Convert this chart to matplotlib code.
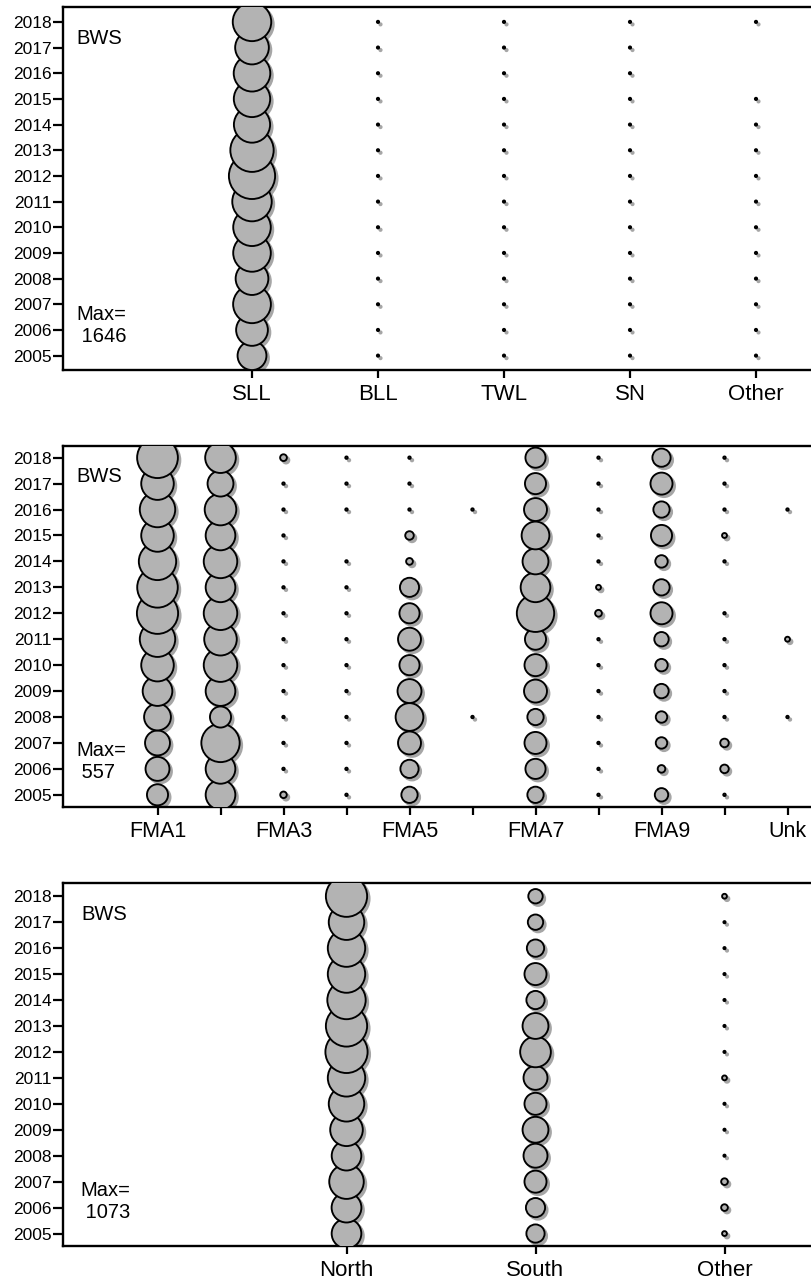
import matplotlib
matplotlib.use('Agg')
import matplotlib.pyplot as plt
import numpy as np
from matplotlib.transforms import ScaledTranslation

plt.rcParams['font.family'] = ['Liberation Sans', 'DejaVu Sans']

nan = np.nan
years = list(range(2005, 2019))

# ---------------- Panel 1: by gear (Max = 1646) ----------------
gear_cats = ['SLL', 'BLL', 'TWL', 'SN', 'Other']
gear_SLL = [643, 778, 1100, 826, 1090, 1087, 1201, 1646, 1447, 1010, 1020, 1032, 875, 1143]
gear_BLL = [4, 4, 4, 4, 4, 4, 4, 4, 4, 4, 4, 4, 4, 4]
gear_TWL = [4, 4, 4, 4, 4, 4, 4, 4, 4, 4, 4, 4, 4, 4]
gear_SN = [4, 4, 4, 4, 4, 4, 4, 4, 4, 4, 4, 4, 4, 4]
gear_Other = [4, 4, 4, 4, 4, 4, 4, 4, 4, 4, 4, nan, nan, 4]
gear_max = 1646

# ---------------- Panel 2: by FMA (Max = 557) ----------------
fma_cats = ['FMA1', 'FMA2', 'FMA3', 'FMA4', 'FMA5', 'FMA6', 'FMA7', 'FMA8', 'FMA9', 'FMA10', 'Unk']
fma_FMA1 = [146, 188, 204, 236, 289, 348, 412, 557, 540, 458, 348, 412, 348, 545]
fma_FMA2 = [289, 289, 482, 146, 289, 369, 348, 369, 289, 369, 289, 328, 220, 308]
fma_FMA3 = [14, 2, 2, 2, 2, 2, 2, 2, 2, 2, 2, 2, 2, 15]
fma_FMA4 = [2, 2, 2, 2, 2, 2, 2, 2, 2, 2, nan, 2, 2, 2]
fma_FMA5 = [87, 109, 173, 253, 188, 133, 173, 133, 120, 15, 24, 2, 2, 2]
fma_FMA6 = [nan, nan, nan, 2, nan, nan, nan, nan, nan, nan, nan, 2, nan, nan]
fma_FMA7 = [87, 133, 159, 87, 173, 159, 146, 458, 289, 220, 253, 173, 146, 133]
fma_FMA8 = [2, 2, 2, 2, 2, 2, 2, 15, 8, 2, 2, 2, 2, 2]
fma_FMA9 = [59, 19, 43, 43, 68, 51, 68, 159, 87, 51, 146, 87, 159, 109]
fma_FMA10 = [2, 24, 24, 2, 2, 2, 2, 2, nan, 2, 8, 2, 2, 2]
fma_Unk = [nan, nan, nan, 2, nan, nan, 8, nan, nan, nan, nan, 2, nan, nan]
fma_max = 557

# ---------------- Panel 3: by region (Max = 1073) ----------------
reg_cats = ['North', 'South', 'Other']
reg_North = [530, 535, 718, 528, 641, 759, 843, 1073, 1025, 887, 843, 843, 759, 1025]
reg_South = [200, 222, 293, 346, 404, 293, 346, 568, 404, 200, 293, 180, 142, 125]
reg_Other = [14, 27, 27, 3, 3, 3, 14, 3, 3, 3, 3, 3, 3, 14]
reg_max = 1073

panel_label = 'BWS'

FIG_W, FIG_H, DPI = 811, 1287, 100
fig = plt.figure(figsize=(FIG_W / DPI, FIG_H / DPI), dpi=DPI)

FILL = '#b3b3b3'
SHADOW = '#a6a6a6'
EDGE_LW = 1.35


def px(v):
    return v / FIG_W


def py(v):
    return v / FIG_H


def make_axes(top_px, bottom_px):
    left = 63
    right = 819
    return fig.add_axes([px(left), 1 - py(bottom_px), px(right - left), py(bottom_px - top_px)])


def draw_panel(ax, cats, series, vmax, dmax_px, ylim, xlabels, xfs, max_text, bws_dx=13, max_dx=13):
    xs = np.arange(len(cats))
    scale = dmax_px - 1.8
    shadow_tr = ax.transData + ScaledTranslation(2.5 / DPI, -2.5 / DPI, fig.dpi_scale_trans)
    allx, ally, alls = [], [], []
    for yi, yr in enumerate(years):
        for ci in range(len(cats)):
            v = series[ci][yi]
            if v is None or np.isnan(v):
                continue
            d_px = scale * np.sqrt(v / vmax)
            s = (d_px * 72.0 / DPI) ** 2
            allx.append(xs[ci])
            ally.append(yr)
            alls.append(s)
    ax.scatter(allx, ally, s=alls, c=SHADOW, edgecolors=SHADOW, linewidths=EDGE_LW,
               transform=shadow_tr, zorder=2)
    ax.scatter(allx, ally, s=alls, c=FILL, edgecolors='black', linewidths=EDGE_LW, zorder=3)

    ax.set_xlim(-1.5, len(cats) - 0.5)
    ax.set_ylim(*ylim)
    ax.set_yticks(years)
    ax.set_yticklabels([str(y) for y in years], fontsize=12.5)
    ax.set_xticks(xs)
    ax.set_xticklabels(xlabels, fontsize=xfs)
    ax.tick_params(axis='y', length=7.2, width=1.6, pad=0.8, direction='out')
    ax.tick_params(axis='x', length=5.5, width=1.6, pad=4.5, direction='out')
    for sp in ['left', 'bottom', 'top']:
        ax.spines[sp].set_linewidth(1.7)
    ax.spines['right'].set_visible(False)

    ax.annotate(panel_label, xy=(0, 1), xycoords='axes fraction',
                xytext=(bws_dx, -31), textcoords='offset pixels',
                ha='left', va='center', fontsize=14.5)
    ax.annotate('Max=\n ' + max_text, xy=(0, 0), xycoords='axes fraction',
                xytext=(max_dx, 45), textcoords='offset pixels',
                ha='left', va='center', fontsize=14.5, linespacing=1.2)


# Panel 1
ax1 = make_axes(7, 370)
draw_panel(ax1, gear_cats, [gear_SLL, gear_BLL, gear_TWL, gear_SN, gear_Other],
           gear_max, 48, (2004.44, 2018.58), gear_cats, 16, str(gear_max))

# Panel 2
ax2 = make_axes(446, 807)
fma_series = [fma_FMA1, fma_FMA2, fma_FMA3, fma_FMA4, fma_FMA5, fma_FMA6,
              fma_FMA7, fma_FMA8, fma_FMA9, fma_FMA10, fma_Unk]
fma_labels = [c if i % 2 == 0 else '' for i, c in enumerate(fma_cats)]
draw_panel(ax2, fma_cats, fma_series, fma_max, 43, (2004.53, 2018.45), fma_labels, 15.5, str(fma_max))

# Panel 3
ax3 = make_axes(883, 1246)
draw_panel(ax3, reg_cats, [reg_North, reg_South, reg_Other],
           reg_max, 44, (2004.52, 2018.51), reg_cats, 16, str(reg_max), bws_dx=18, max_dx=17)

fig.savefig('out.png', dpi=DPI)
